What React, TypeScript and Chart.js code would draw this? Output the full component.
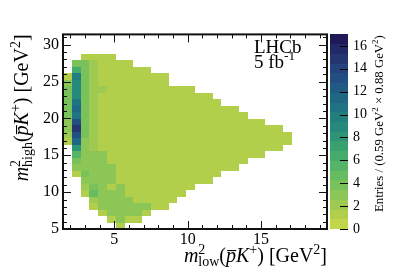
import React, { useEffect, useRef } from 'react';
import { Chart, registerables } from 'chart.js';

Chart.register(...registerables);

const FONT = '"Liberation Serif", "Times New Roman", serif';

const X_MIN = 1.5;
const X_MAX = 19.5;
const X_BIN = 0.6;
const Y_MIN = 5;
const Y_MAX = 31.4;
const Y_BIN = 0.88;
const Z_MIN = 0;
const Z_MAX = 17;
const Z_BANDS = 20;

const xTickValues = [5, 10, 15];
const yTickValues = [5, 10, 15, 20, 25, 30];
const zTickValues = [0, 2, 4, 6, 8, 10, 12, 14, 16];

// first occupied column of each row (row 0 = lowest)
const rowStart = [6, 5, 4, 3, 3, 2, 2, 2, 1, 1, 1, 1, 1, 0, 0, 0, 0, 0, 0, 0, 0, 0, 0, 0, 1, 1, 2];

// entries per bin, row by row, starting at rowStart
const rowValues: number[][] = [
  [1.5],
  [1.2, 2.8, 1.5, 1.2],
  [1.5, 2.8, 2.8, 2.8, 3.2, 1.2],
  [1.5, 2.8, 2.8, 2.8, 2.6, 2.6, 2.6, 1.2, 1.2],
  [2.5, 2.8, 2.8, 2.8, 2.8, 1.2, 1.2, 1.2, 1.2, 1.2],
  [1.5, 4.8, 2.8, 2.8, 2.8, 1.2, 1.2, 1.2, 1.2, 1.2, 1.2, 1.2],
  [2.5, 3.5, 2.8, 1.2, 2.8, 1.2, 1.2, 1.2, 1.2, 1.2, 1.2, 1.2, 1.2],
  [3.0, 3.0, 2.8, 2.8, 1.2, 1.2, 1.2, 1.2, 1.2, 1.2, 1.2, 1.2, 1.2, 1.2, 1.2],
  [1.5, 3.5, 2.8, 2.8, 2.8, 1.2, 1.2, 1.2, 1.2, 1.2, 1.2, 1.2, 1.2, 1.2, 1.2, 1.2, 1.2],
  [3.0, 3.0, 2.8, 2.8, 2.6, 1.2, 1.2, 1.2, 1.2, 1.2, 1.2, 1.2, 1.2, 1.2, 1.2, 1.2, 1.2, 1.2, 1.2],
  [4.2, 3.0, 2.8, 2.8, 1.2, 1.2, 1.2, 1.2, 1.2, 1.2, 1.2, 1.2, 1.2, 1.2, 1.2, 1.2, 1.2, 1.2, 1.2, 1.2],
  [5.5, 3.0, 2.8, 2.8, 1.2, 1.2, 1.2, 1.2, 1.2, 1.2, 1.2, 1.2, 1.2, 1.2, 1.2, 1.2, 1.2, 1.2, 1.2, 1.2, 1.2, 1.2],
  [8.0, 3.0, 2.2, 1.2, 1.2, 1.2, 1.2, 1.2, 1.2, 1.2, 1.2, 1.2, 1.2, 1.2, 1.2, 1.2, 1.2, 1.2, 1.2, 1.2, 1.2, 1.2, 1.2, 1.2],
  [1.3, 11.2, 3.2, 2.2, 1.2, 1.2, 1.2, 1.2, 1.2, 1.2, 1.2, 1.2, 1.2, 1.2, 1.2, 1.2, 1.2, 1.2, 1.2, 1.2, 1.2, 1.2, 1.2, 1.2, 1.2, 1.2],
  [2.2, 13.5, 3.5, 2.2, 1.2, 1.2, 1.2, 1.2, 1.2, 1.2, 1.2, 1.2, 1.2, 1.2, 1.2, 1.2, 1.2, 1.2, 1.2, 1.2, 1.2, 1.2, 1.2, 1.2, 1.2, 1.2],
  [3.2, 14.5, 3.8, 2.2, 1.2, 1.2, 1.2, 1.2, 1.2, 1.2, 1.2, 1.2, 1.2, 1.2, 1.2, 1.2, 1.2, 1.2, 1.2, 1.2, 1.2, 1.2, 1.2, 1.2, 1.2],
  [2.8, 12.8, 4.0, 2.2, 1.2, 1.2, 1.2, 1.2, 1.2, 1.2, 1.2, 1.2, 1.2, 1.2, 1.2, 1.2, 1.2, 1.2, 1.2, 1.2, 1.2, 1.2, 1.2],
  [4.0, 11.0, 3.8, 2.2, 1.2, 1.2, 1.2, 1.2, 1.2, 1.2, 1.2, 1.2, 1.2, 1.2, 1.2, 1.2, 1.2, 1.2, 1.2, 1.2, 1.2],
  [4.2, 11.3, 4.0, 2.2, 1.2, 1.2, 1.2, 1.2, 1.2, 1.2, 1.2, 1.2, 1.2, 1.2, 1.2, 1.2, 1.2, 1.2, 1.2, 1.2],
  [3.5, 11.0, 4.0, 2.2, 1.2, 1.2, 1.2, 1.2, 1.2, 1.2, 1.2, 1.2, 1.2, 1.2, 1.2, 1.2, 1.2, 1.2],
  [3.8, 9.3, 4.2, 2.2, 1.2, 1.2, 1.2, 1.2, 1.2, 1.2, 1.2, 1.2, 1.2, 1.2, 1.2, 1.2, 1.2],
  [3.5, 9.0, 4.0, 2.2, 2.0, 1.2, 1.2, 1.2, 1.2, 1.2, 1.2, 1.2, 1.2, 1.2, 1.2],
  [2.8, 9.3, 4.0, 2.2, 1.2, 1.2, 1.2, 1.2, 1.2, 1.2, 1.2, 1.2],
  [1.2, 10.0, 3.8, 2.2, 1.2, 1.2, 1.2, 1.2, 1.2, 1.2, 1.2, 1.2],
  [6.0, 4.0, 2.2, 1.2, 1.2, 1.2, 1.2, 1.2, 1.2],
  [4.0, 4.0, 2.2, 1.2, 1.2, 1.2, 1.2],
  [1.2, 1.2, 1.2, 1.2],
];

// palette anchors (value -> colour)
const paletteValues = [0, 1, 2, 3, 4, 5, 6, 7, 8, 9, 10, 11, 12, 13, 14, 15, 16, 17];
const paletteColors = [
  '#c9da47', '#b8d14b', '#a1cb50', '#8bc656', '#75c05c', '#60b963', '#4baf6a', '#3ba370', '#2e9676',
  '#26887b', '#217b80', '#1f6e83', '#1f6084', '#215182', '#24427b', '#253370', '#222462', '#1b154f',
];

function hexToRgb(h: string) {
  const n = parseInt(h.slice(1), 16);
  return [(n >> 16) & 255, (n >> 8) & 255, n & 255];
}
function paletteAt(v: number) {
  let i = 0;
  while (i < paletteValues.length - 2 && v > paletteValues[i + 1]) i++;
  const t = Math.max(0, Math.min(1, (v - paletteValues[i]) / (paletteValues[i + 1] - paletteValues[i])));
  const a = hexToRgb(paletteColors[i]);
  const b = hexToRgb(paletteColors[i + 1]);
  const c = a.map((x, k) => Math.round(x + (b[k] - x) * t));
  return `rgb(${c[0]},${c[1]},${c[2]})`;
}
const bandWidth = (Z_MAX - Z_MIN) / Z_BANDS;
function bandColor(k: number) {
  return paletteAt(Z_MIN + (k + 0.5) * bandWidth);
}
function colorFor(v: number) {
  const k = Math.max(0, Math.min(Z_BANDS - 1, Math.floor((v - Z_MIN) / bandWidth)));
  return bandColor(k);
}

type Seg = { t: string; it?: boolean; s?: number; dy?: number; bar?: boolean; noAdv?: boolean };
function fontOf(sg: Seg, base: number) {
  return `${sg.it ? 'italic ' : ''}${(base * (sg.s ?? 1)).toFixed(2)}px ${FONT}`;
}
function drawRich(ctx: CanvasRenderingContext2D, segs: Seg[], base: number, x: number, y: number, rot: number, align: 'left' | 'right') {
  ctx.save();
  ctx.translate(x, y);
  ctx.rotate(rot);
  let w = 0;
  for (const sg of segs) {
    ctx.font = fontOf(sg, base);
    if (!sg.noAdv) w += ctx.measureText(sg.t).width;
  }
  let cx = align === 'right' ? -w : 0;
  ctx.textAlign = 'left';
  ctx.textBaseline = 'alphabetic';
  ctx.fillStyle = '#000';
  for (const sg of segs) {
    ctx.font = fontOf(sg, base);
    const sw = ctx.measureText(sg.t).width;
    const dy = (sg.dy ?? 0) * base;
    ctx.fillText(sg.t, cx, dy);
    if (sg.bar) ctx.fillRect(cx + 0.12 * sw, dy - 0.6 * base, sw * 0.9, Math.max(1, base * 0.055));
    if (!sg.noAdv) cx += sw;
  }
  ctx.restore();
}

const xTitle: Seg[] = [
  { t: 'm', it: true },
  { t: '2', s: 0.7, dy: -0.42, noAdv: true },
  { t: 'low', s: 0.7, dy: 0.22 },
  { t: '(' },
  { t: 'p', it: true, bar: true },
  { t: 'K', it: true },
  { t: '+', s: 0.7, dy: -0.42 },
  { t: ')' },
  { t: ' [GeV' },
  { t: '2', s: 0.7, dy: -0.42 },
  { t: ']' },
];
const yTitle: Seg[] = [
  { t: 'm', it: true },
  { t: '2', s: 0.7, dy: -0.42, noAdv: true },
  { t: 'high', s: 0.7, dy: 0.22 },
  { t: '(' },
  { t: 'p', it: true, bar: true },
  { t: 'K', it: true },
  { t: '+', s: 0.7, dy: -0.42 },
  { t: ')' },
  { t: ' [GeV' },
  { t: '2', s: 0.7, dy: -0.42 },
  { t: ']' },
];
const zTitle: Seg[] = [
  { t: 'Entries / (0.59 GeV' },
  { t: '2', s: 0.7, dy: -0.42 },
  { t: ' \u00d7 0.88 GeV' },
  { t: '2', s: 0.7, dy: -0.42 },
  { t: ')' },
];

const heatPlugin = {
  id: 'heat',
  beforeDatasetsDraw(chart: any) {
    const { ctx } = chart;
    const xs = chart.scales.x;
    const ys = chart.scales.y;
    const pts = chart.data.datasets[0].data as { x: number; y: number; v: number }[];
    ctx.save();
    for (const c of pts) {
      const l = Math.round(xs.getPixelForValue(c.x - X_BIN / 2));
      const r = Math.round(xs.getPixelForValue(c.x + X_BIN / 2));
      const t = Math.round(ys.getPixelForValue(c.y + Y_BIN / 2));
      const b = Math.round(ys.getPixelForValue(c.y - Y_BIN / 2));
      ctx.fillStyle = colorFor(c.v);
      ctx.fillRect(l, t, r - l, b - t);
    }
    ctx.restore();
  },
  afterDraw(chart: any) {
    const { ctx, chartArea: a } = chart;
    const xs = chart.scales.x;
    const ys = chart.scales.y;
    const zs = chart.scales.z;
    ctx.save();
    // colour bar
    const cbL = 330;
    const cbR = 348;
    for (let k = 0; k < Z_BANDS; k++) {
      const y0 = Math.round(zs.getPixelForValue(Z_MIN + k * bandWidth));
      const y1 = Math.round(zs.getPixelForValue(Z_MIN + (k + 1) * bandWidth));
      ctx.fillStyle = bandColor(k);
      ctx.fillRect(cbL, y1, cbR - cbL, y0 - y1);
    }
    ctx.strokeStyle = '#000';
    ctx.lineWidth = 1;
    ctx.beginPath();
    for (const v of zTickValues) {
      const py = Math.round(zs.getPixelForValue(v)) + 0.5;
      ctx.moveTo(cbR, py);
      ctx.lineTo(cbR - 8, py);
    }
    ctx.stroke();

    // frame
    ctx.lineWidth = 2;
    ctx.strokeStyle = '#111';
    ctx.strokeRect(a.left, a.top, a.right - a.left, a.bottom - a.top);

    // ticks
    ctx.lineWidth = 1;
    ctx.beginPath();
    for (let v = 2; v <= 19; v++) {
      const px = Math.round(xs.getPixelForValue(v)) + 0.5;
      const len = v % 5 === 0 ? 8 : 4;
      ctx.moveTo(px, a.bottom);
      ctx.lineTo(px, a.bottom - len);
      ctx.moveTo(px, a.top);
      ctx.lineTo(px, a.top + len);
    }
    for (let v = 6; v <= 31; v++) {
      const py = Math.round(ys.getPixelForValue(v)) + 0.5;
      const len = v % 5 === 0 ? 8 : 4;
      ctx.moveTo(a.left, py);
      ctx.lineTo(a.left + len, py);
      ctx.moveTo(a.right, py);
      ctx.lineTo(a.right - len, py);
    }
    ctx.stroke();

    // texts
    drawRich(ctx, [{ t: 'LHCb' }], 19, 254, 53, 0, 'left');
    drawRich(ctx, [{ t: '5 fb' }, { t: '-1', s: 0.7, dy: -0.42 }], 19, 254, 68, 0, 'left');
    drawRich(ctx, xTitle, 20, a.right, 262, 0, 'right');
    drawRich(ctx, yTitle, 20, 28, a.top, -Math.PI / 2, 'right');
    drawRich(ctx, zTitle, 12.8, 383, 212, -Math.PI / 2, 'left');
    ctx.restore();
  },
};

export default function App() {
  const ref = useRef<HTMLCanvasElement>(null);
  useEffect(() => {
    const canvas = ref.current;
    if (!canvas) return;
    const points: { x: number; y: number; v: number }[] = [];
    rowValues.forEach((vals, j) => {
      vals.forEach((v, k) => {
        const col = rowStart[j] + k;
        points.push({ x: X_MIN + (col + 0.5) * X_BIN, y: Y_MIN + (j + 0.5) * Y_BIN, v });
      });
    });
    const tickFont = { family: FONT, size: 16 };
    const chart = new Chart(canvas, {
      type: 'scatter',
      data: { datasets: [{ data: points as any, pointRadius: 0, pointHoverRadius: 0 }] },
      options: {
        responsive: false,
        animation: false,
        events: [],
        layout: { padding: { top: 22, left: 0, right: 0, bottom: 0 } },
        plugins: { legend: { display: false }, tooltip: { enabled: false } },
        scales: {
          x: {
            type: 'linear',
            position: 'bottom',
            min: X_MIN,
            max: X_MAX,
            afterBuildTicks: (s: any) => { s.ticks = xTickValues.map((v) => ({ value: v })); },
            afterFit: (s: any) => { s.height = 43; },
            grid: { display: false, drawTicks: false },
            border: { display: false },
            ticks: { autoSkip: false, maxRotation: 0, padding: 1, color: '#000', font: tickFont, callback: (v: any) => String(v) },
          },
          y: {
            type: 'linear',
            position: 'left',
            min: Y_MIN,
            max: Y_MAX,
            afterBuildTicks: (s: any) => { s.ticks = yTickValues.map((v) => ({ value: v })); },
            afterFit: (s: any) => { s.width = 63; },
            grid: { display: false, drawTicks: false },
            border: { display: false },
            ticks: { autoSkip: false, padding: 4, color: '#000', font: tickFont, callback: (v: any) => String(v) },
          },
          z: {
            type: 'linear',
            axis: 'y',
            position: 'right',
            min: Z_MIN,
            max: Z_MAX,
            afterBuildTicks: (s: any) => { s.ticks = zTickValues.map((v) => ({ value: v })); },
            afterFit: (s: any) => { s.width = 80; },
            grid: { display: false, drawTicks: false },
            border: { display: false },
            ticks: { autoSkip: false, padding: 26, color: '#000', font: { family: FONT, size: 14 }, callback: (v: any) => String(v) },
          },
        } as any,
      },
      plugins: [heatPlugin],
    });
    return () => chart.destroy();
  }, []);
  return (
    <div style={{ position: 'fixed', left: 0, top: 0, width: 407, height: 272, background: '#fff' }}>
      <canvas ref={ref} width={407} height={272} style={{ display: 'block' }} />
    </div>
  );
}
